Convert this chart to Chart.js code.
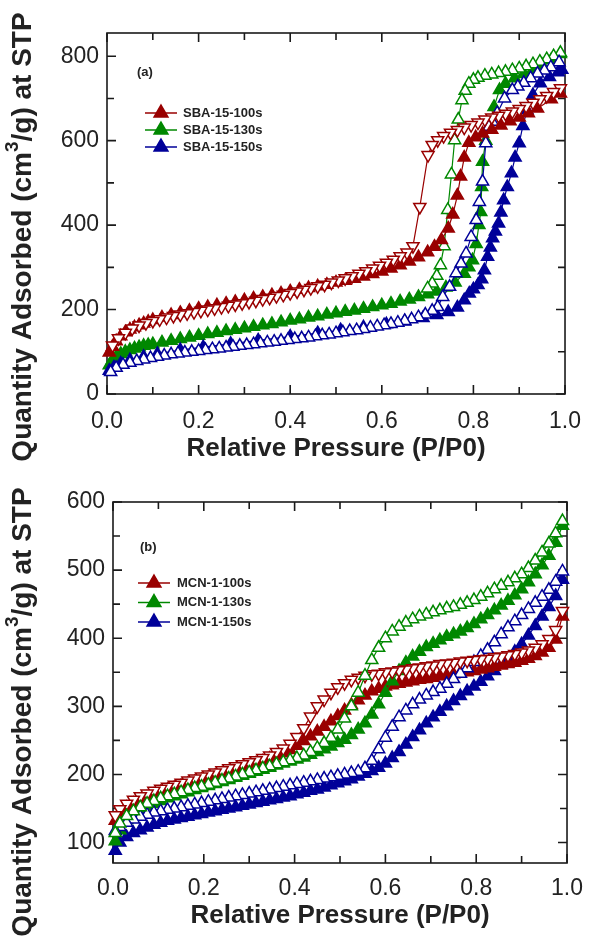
<!DOCTYPE html>
<html>
<head>
<meta charset="utf-8">
<script src="https://cdn.jsdelivr.net/npm/chart.js@4.4.1/dist/chart.umd.min.js"></script>
<style>
    body { margin: 0; background: #fff; }
    .panel { position: absolute; left: 0; width: 595px; height: 470px; }
</style>
</head>
<body>
<div class="panel" style="top:0"><canvas id="chartA" width="595" height="470"></canvas></div>
<div class="panel" style="top:470px"><canvas id="chartB" width="595" height="470"></canvas></div>
<script>
// ---- data (P/P0, cm3/g) ----
const xTicks = [0, 0.2, 0.4, 0.6, 0.8, 1.0];
const xMinor = [0.1, 0.3, 0.5, 0.7, 0.9];
const yTicksA = [0, 200, 400, 600, 800];
const yMinorA = [100, 300, 500, 700];
const yTicksB = [100, 200, 300, 400, 500, 600];
const yMinorB = [150, 250, 350, 450, 550];

const namesA = ['SBA-15-100s', 'SBA-15-130s', 'SBA-15-150s'];
const namesB = ['MCN-1-100s', 'MCN-1-130s', 'MCN-1-150s'];

const sba100Ads = [[0.005,98],[0.012,112],[0.02,125],[0.03,137],[0.04,146],[0.05,153],[0.06,158],[0.07,163],[0.08,167],[0.09,171],[0.10,175],[0.12,181],[0.14,187],[0.16,192],[0.18,197],[0.20,202],[0.22,206],[0.24,210],[0.26,214],[0.28,218],[0.30,222],[0.32,226],[0.34,230],[0.36,234],[0.38,238],[0.40,243],[0.42,247],[0.44,251],[0.46,255],[0.48,259],[0.50,264],[0.52,268],[0.54,273],[0.56,278],[0.58,284],[0.60,290],[0.62,297],[0.64,305],[0.66,314],[0.68,324],[0.70,336],[0.715,349],[0.73,365],[0.745,392],[0.755,425],[0.765,470],[0.772,515],[0.78,560],[0.79,595],[0.805,608],[0.82,617],[0.84,626],[0.86,636],[0.88,646],[0.90,655],[0.92,665],[0.94,676],[0.97,698],[0.99,712]];
const sba100Des = [[0.99,724],[0.975,715],[0.96,706],[0.945,698],[0.93,690],[0.915,682],[0.90,675],[0.885,669],[0.87,664],[0.855,659],[0.84,655],[0.825,650],[0.81,643],[0.795,637],[0.78,631],[0.765,625],[0.75,619],[0.735,611],[0.722,601],[0.71,590],[0.701,566],[0.683,443],[0.668,350],[0.655,335],[0.64,326],[0.625,318],[0.61,311],[0.595,304],[0.58,297],[0.565,291],[0.55,285],[0.535,279],[0.52,274],[0.505,269],[0.49,264],[0.475,259],[0.46,255],[0.445,251],[0.43,247],[0.415,243],[0.40,239],[0.385,235],[0.37,232],[0.355,228],[0.34,225],[0.325,221],[0.31,218],[0.295,215],[0.28,212],[0.265,209],[0.25,206],[0.235,203],[0.22,200],[0.205,197],[0.19,194],[0.175,191],[0.16,188],[0.145,185],[0.13,181],[0.115,177],[0.10,173],[0.085,168],[0.07,162],[0.055,155],[0.04,145],[0.025,132],[0.012,115]];
const sba130Ads = [[0.005,68],[0.012,80],[0.02,88],[0.03,95],[0.04,100],[0.05,104],[0.06,108],[0.07,111],[0.08,114],[0.09,116],[0.10,118],[0.12,122],[0.14,126],[0.16,130],[0.18,134],[0.20,138],[0.22,142],[0.24,145],[0.26,149],[0.28,152],[0.30,156],[0.32,159],[0.34,163],[0.36,166],[0.38,170],[0.40,174],[0.42,177],[0.44,181],[0.46,184],[0.48,188],[0.50,191],[0.52,195],[0.54,198],[0.56,202],[0.58,206],[0.60,210],[0.62,214],[0.64,219],[0.66,224],[0.68,230],[0.70,236],[0.72,243],[0.74,252],[0.76,264],[0.78,285],[0.79,300],[0.798,317],[0.806,355],[0.812,400],[0.816,431],[0.818,490],[0.82,550],[0.827,600],[0.834,633],[0.845,680],[0.857,720],[0.87,735],[0.89,748],[0.91,758],[0.93,768],[0.95,779],[0.97,791],[0.99,805]];
const sba130Des = [[0.99,808],[0.975,800],[0.96,793],[0.945,787],[0.93,781],[0.915,776],[0.90,771],[0.885,767],[0.87,763],[0.855,760],[0.84,757],[0.825,754],[0.81,749],[0.80,744],[0.79,735],[0.782,718],[0.775,696],[0.767,650],[0.759,601],[0.752,520],[0.744,436],[0.736,350],[0.728,305],[0.72,280],[0.71,262],[0.70,250]];
const sba150Ads = [[0.005,55],[0.015,63],[0.03,72],[0.05,80],[0.08,88],[0.11,95],[0.16,104],[0.21,111],[0.27,119],[0.33,127],[0.40,136],[0.46,144],[0.51,151],[0.56,158],[0.61,165],[0.65,172],[0.69,180],[0.72,187],[0.745,194],[0.765,205],[0.78,222],[0.791,238],[0.80,248],[0.81,258],[0.818,272],[0.824,293],[0.831,325],[0.837,347],[0.842,369],[0.848,385],[0.855,404],[0.86,430],[0.866,459],[0.874,490],[0.883,523],[0.891,560],[0.90,594],[0.908,635],[0.917,672],[0.93,708],[0.946,736],[0.966,751],[0.985,762],[0.993,768]];
const sba150Des = [[0.987,786],[0.969,774],[0.955,766],[0.94,759],[0.925,748],[0.91,737],[0.897,728],[0.885,720],[0.868,700],[0.852,665],[0.841,645],[0.834,633],[0.827,594],[0.82,503],[0.813,455],[0.806,412],[0.795,372],[0.784,333],[0.773,309],[0.762,286],[0.748,254],[0.733,230],[0.722,206],[0.71,197],[0.695,188],[0.68,182],[0.665,177],[0.65,173],[0.635,169],[0.62,166],[0.605,163],[0.59,160],[0.575,157],[0.56,154],[0.545,151],[0.53,149],[0.515,146],[0.50,144],[0.485,141],[0.47,139],[0.455,137],[0.44,134],[0.425,132],[0.41,130],[0.395,128],[0.38,126],[0.365,124],[0.35,122],[0.335,120],[0.32,118],[0.305,116],[0.29,114],[0.275,112],[0.26,110],[0.245,108],[0.23,106],[0.215,104],[0.20,102],[0.185,100],[0.17,98],[0.155,96],[0.14,94],[0.125,91],[0.11,88],[0.095,85],[0.08,82],[0.065,78],[0.05,74],[0.035,69],[0.02,62],[0.008,52]];

const mcn100Ads = [[0.005,132],[0.015,142],[0.03,151],[0.045,157],[0.06,162],[0.075,166],[0.09,170],[0.105,174],[0.12,177],[0.135,180],[0.15,183],[0.165,186],[0.18,189],[0.195,192],[0.21,195],[0.225,198],[0.24,201],[0.255,204],[0.27,207],[0.285,210],[0.30,213],[0.315,216],[0.33,219],[0.345,223],[0.36,227],[0.375,231],[0.39,236],[0.405,242],[0.42,249],[0.435,256],[0.45,263],[0.465,270],[0.48,278],[0.495,286],[0.51,294],[0.525,302],[0.54,309],[0.555,316],[0.57,322],[0.585,326],[0.60,329],[0.615,331],[0.63,333],[0.645,335],[0.66,337],[0.675,339],[0.69,340],[0.705,342],[0.72,344],[0.735,345],[0.75,347],[0.765,349],[0.78,350],[0.795,352],[0.81,354],[0.825,356],[0.84,358],[0.855,360],[0.87,362],[0.885,364],[0.90,367],[0.915,370],[0.93,374],[0.945,379],[0.96,386],[0.975,398],[0.99,432]];
const mcn100Des = [[0.99,440],[0.975,412],[0.96,399],[0.945,391],[0.93,386],[0.915,382],[0.90,379],[0.885,377],[0.87,375],[0.855,373],[0.84,372],[0.825,370],[0.81,369],[0.795,368],[0.78,367],[0.765,366],[0.75,364],[0.735,363],[0.72,362],[0.705,360],[0.69,359],[0.675,357],[0.66,356],[0.645,354],[0.63,353],[0.615,351],[0.60,350],[0.585,348],[0.57,347],[0.555,345],[0.54,342],[0.525,339],[0.51,334],[0.495,328],[0.48,320],[0.465,310],[0.45,300],[0.435,285],[0.42,268],[0.405,255],[0.39,245],[0.375,238],[0.36,233],[0.345,228],[0.33,224],[0.315,221],[0.30,218],[0.285,215],[0.27,212],[0.255,209],[0.24,206],[0.225,203],[0.21,200],[0.195,197],[0.18,194],[0.165,191],[0.15,188],[0.135,185],[0.12,182],[0.105,179],[0.09,176],[0.075,172],[0.06,168],[0.045,163],[0.03,157],[0.015,149],[0.005,140]];
const mcn130Ads = [[0.005,102],[0.015,118],[0.03,133],[0.045,142],[0.06,148],[0.075,153],[0.09,157],[0.105,161],[0.12,165],[0.135,168],[0.15,171],[0.165,174],[0.18,177],[0.195,180],[0.21,183],[0.225,186],[0.24,189],[0.255,192],[0.27,195],[0.285,198],[0.30,201],[0.315,204],[0.33,207],[0.345,210],[0.36,213],[0.375,216],[0.39,219],[0.405,222],[0.42,225],[0.435,229],[0.45,233],[0.465,237],[0.48,241],[0.495,246],[0.51,251],[0.525,258],[0.54,266],[0.555,275],[0.57,288],[0.585,303],[0.60,320],[0.615,337],[0.63,352],[0.645,364],[0.66,373],[0.675,380],[0.69,387],[0.705,392],[0.72,397],[0.735,402],[0.75,406],[0.765,410],[0.78,415],[0.795,421],[0.81,428],[0.825,434],[0.84,441],[0.855,448],[0.87,455],[0.885,463],[0.90,472],[0.915,482],[0.93,494],[0.945,507],[0.96,521],[0.975,540],[0.99,565]];
const mcn130Des = [[0.99,572],[0.975,554],[0.96,539],[0.945,526],[0.93,514],[0.915,503],[0.90,494],[0.885,488],[0.87,482],[0.855,477],[0.84,472],[0.825,466],[0.81,461],[0.795,456],[0.78,452],[0.765,449],[0.75,446],[0.735,444],[0.72,441],[0.705,438],[0.69,435],[0.675,432],[0.66,428],[0.645,423],[0.63,417],[0.615,410],[0.60,400],[0.585,386],[0.57,368],[0.555,345],[0.54,320],[0.525,300],[0.51,282],[0.495,266],[0.48,254],[0.465,246],[0.45,239],[0.435,233],[0.42,228],[0.405,224],[0.39,221],[0.375,218],[0.36,215],[0.345,212],[0.33,209],[0.315,206],[0.30,203],[0.285,200],[0.27,197],[0.255,194],[0.24,191],[0.225,188],[0.21,185],[0.195,182],[0.18,180],[0.165,177],[0.15,174],[0.135,171],[0.12,168],[0.105,165],[0.09,161],[0.075,157],[0.06,152],[0.045,146],[0.03,139],[0.015,128],[0.005,114]];
const mcn150Ads = [[0.005,88],[0.015,100],[0.03,108],[0.045,114],[0.06,118],[0.075,122],[0.09,126],[0.105,129],[0.12,132],[0.135,134],[0.15,136],[0.165,138],[0.18,140],[0.195,142],[0.21,144],[0.225,146],[0.24,148],[0.255,150],[0.27,152],[0.285,154],[0.30,156],[0.315,158],[0.33,160],[0.345,162],[0.36,164],[0.375,166],[0.39,168],[0.405,171],[0.42,173],[0.435,176],[0.45,178],[0.465,181],[0.48,184],[0.495,187],[0.51,190],[0.525,193],[0.54,197],[0.555,201],[0.57,205],[0.585,210],[0.60,216],[0.615,224],[0.63,233],[0.645,244],[0.66,255],[0.675,265],[0.69,275],[0.705,284],[0.72,292],[0.735,300],[0.75,308],[0.765,315],[0.78,322],[0.795,329],[0.81,336],[0.825,344],[0.84,352],[0.855,361],[0.87,370],[0.885,380],[0.90,391],[0.915,404],[0.93,418],[0.945,432],[0.96,446],[0.975,462],[0.99,486]];
const mcn150Des = [[0.99,498],[0.975,483],[0.96,471],[0.945,461],[0.93,452],[0.915,443],[0.90,434],[0.885,425],[0.87,416],[0.855,406],[0.84,394],[0.825,383],[0.81,374],[0.795,365],[0.78,356],[0.765,348],[0.75,340],[0.735,333],[0.72,326],[0.705,321],[0.69,316],[0.675,310],[0.66,303],[0.645,294],[0.63,284],[0.615,270],[0.60,254],[0.585,237],[0.57,220],[0.555,209],[0.54,204],[0.525,202],[0.51,200],[0.495,198],[0.48,196],[0.465,194],[0.45,192],[0.435,190],[0.42,188],[0.405,186],[0.39,184],[0.375,182],[0.36,180],[0.345,178],[0.33,176],[0.315,174],[0.30,172],[0.285,170],[0.27,168],[0.255,166],[0.24,164],[0.225,162],[0.21,160],[0.195,158],[0.18,156],[0.165,154],[0.15,152],[0.135,150],[0.12,148],[0.105,146],[0.09,144],[0.075,141],[0.06,138],[0.045,134],[0.03,129],[0.015,123],[0.005,117]];

const RED = '#990000', GREEN = '#008800', BLUE = '#000099';
const FONT = '"Liberation Sans", Arial, sans-serif';
Chart.defaults.font.family = FONT;

// frame, inward ticks, y title with superscript, legend and panel tag
const decor = {
    id: 'decor',
    beforeDatasetsDraw(chart, args, o) {
        const { ctx, chartArea: a, scales: { x, y } } = chart;
        ctx.save();
        ctx.strokeStyle = '#1a1a1a';
        ctx.lineWidth = 1.6;
        ctx.strokeRect(a.left, a.top, a.right - a.left, a.bottom - a.top);
        ctx.beginPath();
        const mark = (vals, len, horiz) => vals.forEach(v => {
            if (horiz) {
                const p = x.getPixelForValue(v);
                ctx.moveTo(p, a.bottom); ctx.lineTo(p, a.bottom - len);
                ctx.moveTo(p, a.top); ctx.lineTo(p, a.top + len);
            } else {
                const p = y.getPixelForValue(v);
                ctx.moveTo(a.left, p); ctx.lineTo(a.left + len, p);
                ctx.moveTo(a.right, p); ctx.lineTo(a.right - len, p);
            }
        });
        mark(xTicks, 9, true); mark(xMinor, 7, true);
        mark(o.yMajor, 9, false); mark(o.yMinor, 7, false);
        ctx.stroke();

        // y title
        ctx.translate(o.titleX, o.titleY);
        ctx.rotate(-Math.PI / 2);
        ctx.fillStyle = '#222';
        ctx.textBaseline = 'alphabetic';
        const big = 'bold 28px ' + FONT, small = 'bold 19px ' + FONT;
        const parts = [['Quantity Adsorbed (cm', big, 0], ['3', small, -13], ['/g) at STP', big, 0]];
        let w = 0;
        parts.forEach(p => { ctx.font = p[1]; w += ctx.measureText(p[0]).width; });
        let cx = -w / 2;
        parts.forEach(p => {
            ctx.font = p[1];
            ctx.fillText(p[0], cx, p[2]);
            cx += ctx.measureText(p[0]).width;
        });
        ctx.restore();
    },
    afterDatasetsDraw(chart, args, o) {
        const ctx = chart.ctx;
        const L = o.legend;
        ctx.save();
        ctx.font = 'bold 13px ' + FONT;
        ctx.fillStyle = '#222';
        ctx.textBaseline = 'middle';
        ctx.fillText(o.tag, o.tagX, o.tagY);
        ctx.font = 'bold 13px ' + FONT;
        o.names.forEach((name, i) => {
            const ly = L.y + i * L.gap;
            const c = o.colors[i];
            ctx.strokeStyle = c;
            ctx.lineWidth = 1.5;
            ctx.beginPath(); ctx.moveTo(L.x0, ly); ctx.lineTo(L.x1, ly); ctx.stroke();
            ctx.fillStyle = c;
            Chart.helpers.drawPoint(ctx, { pointStyle: 'triangle', radius: 8, rotation: 0, borderWidth: 1 }, (L.x0 + L.x1) / 2, ly);
            ctx.fillStyle = '#222';
            ctx.fillText(name, L.tx, ly);
        });
        ctx.restore();
    }
};

function branch(label, pts, color, open, rot) {
    return {
        label: label,
        data: pts.map(p => ({ x: p[0], y: p[1] })),
        showLine: true,
        borderColor: color,
        borderWidth: 1.2,
        pointStyle: 'triangle',
        pointRadius: 7,
        pointRotation: rot || 0,
        pointBackgroundColor: open ? '#fff' : color,
        pointBorderColor: color,
        pointBorderWidth: 1.5,
        clip: false
    };
}

function buildChart(id, cfg) {
    return new Chart(document.getElementById(id), {
        type: 'scatter',
        data: { datasets: cfg.datasets },
        plugins: [decor],
        options: {
            responsive: false, animation: false,
            layout: { padding: { left: 0, right: cfg.right, top: cfg.top, bottom: 0 } },
            plugins: {
                legend: { display: false },
                tooltip: { enabled: false },
                decor: cfg.decor
            },
            scales: {
                x: {
                    type: 'linear', min: 0, max: 1,
                    grid: { display: false, drawTicks: false }, border: { display: false },
                    afterBuildTicks: s => { s.ticks = xTicks.map(v => ({ value: v })); },
                    afterFit: s => { s.height = cfg.xHeight; },
                    ticks: { padding: cfg.xPad, color: '#222', font: { size: 23 }, maxRotation: 0, autoSkip: false, callback: v => v.toFixed(1) },
                    title: { display: true, text: 'Relative Pressure (P/P0)', color: '#222', font: { size: 26, weight: 'bold' }, padding: { top: 0, bottom: cfg.titlePad } }
                },
                y: {
                    type: 'linear', min: cfg.yMin, max: cfg.yMax,
                    grid: { display: false, drawTicks: false }, border: { display: false },
                    afterBuildTicks: s => { s.ticks = cfg.yTicks.map(v => ({ value: v })); },
                    afterFit: s => { s.width = cfg.yWidth; },
                    ticks: { padding: cfg.yPad, color: '#222', font: { size: 23 } }
                }
            }
        }
    });
}

document.addEventListener('DOMContentLoaded', () => {
    buildChart('chartA', {
        right: 25, top: 33, xHeight: 76, yWidth: 107, xPad: 14, yPad: 8, titlePad: 6,
        yMin: 0, yMax: 855, yTicks: yTicksA,
        datasets: [
            branch(namesA[0] + ' des', sba100Des, RED, true, 180),
            branch(namesA[0], sba100Ads, RED, false),
            branch(namesA[2] + ' des', sba150Des, BLUE, true),
            branch(namesA[2], sba150Ads, BLUE, false),
            branch(namesA[1] + ' des', sba130Des, GREEN, true),
            branch(namesA[1], sba130Ads, GREEN, false)
        ],
        decor: {
            yMajor: yTicksA, yMinor: yMinorA, titleX: 31, titleY: 237,
            tag: '(a)', tagX: 137, tagY: 72,
            names: namesA, colors: [RED, GREEN, BLUE],
            legend: { x0: 145, x1: 177, tx: 183, y: 113, gap: 17 }
        }
    });

    buildChart('chartB', {
        right: 16, top: 32, xHeight: 77, yWidth: 113, xPad: 12, yPad: 8, titlePad: 9,
        yMin: 70, yMax: 600, yTicks: yTicksB,
        datasets: [
            branch(namesB[1] + ' des', mcn130Des, GREEN, true),
            branch(namesB[0] + ' des', mcn100Des, RED, true, 180),
            branch(namesB[2] + ' des', mcn150Des, BLUE, true),
            branch(namesB[1], mcn130Ads, GREEN, false),
            branch(namesB[0], mcn100Ads, RED, false),
            branch(namesB[2], mcn150Ads, BLUE, false)
        ],
        decor: {
            yMajor: yTicksB, yMinor: yMinorB, titleX: 31, titleY: 242,
            tag: '(b)', tagX: 140, tagY: 77,
            names: namesB, colors: [RED, GREEN, BLUE],
            legend: { x0: 138, x1: 170, tx: 177, y: 113, gap: 19.5 }
        }
    });
});
</script>
</body>
</html>
